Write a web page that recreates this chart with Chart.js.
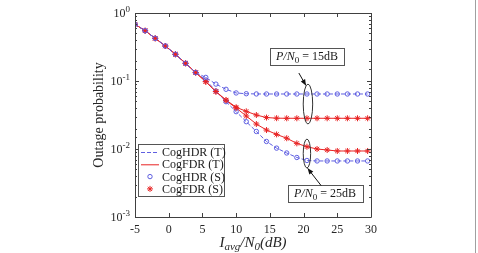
<!DOCTYPE html>
<html>
<head>
<meta charset="utf-8">
<script src="https://cdn.jsdelivr.net/npm/chart.js@4/dist/chart.umd.min.js"></script>
<style>
body{margin:0;background:#fff;}
#wrap{position:relative;width:478px;height:253px;}
#edge{position:absolute;left:475px;top:0;width:1px;height:253px;background:#a0a0a0;}
</style>
</head>
<body>
<div id="wrap"><canvas id="outageChart"></canvas><div id="edge"></div></div>
<script>
// Iavg/N0 (dB) where the curves are sampled
var snr = [-5, -3.5, -2, -0.5, 1, 2.5, 4, 5.5, 7, 8.5, 10, 11.5, 13, 14.5, 16, 17.5, 19, 20.5, 22, 23.5, 25, 26.5, 28, 29.5];

// outage probability, P/N0 = 15dB
var cogHdr15 = [0.682, 0.549, 0.424, 0.327, 0.247, 0.182, 0.133, 0.113, 0.090, 0.0755, 0.0667, 0.065, 0.0645,
  0.0644, 0.0644, 0.0644, 0.0644, 0.0644, 0.0644, 0.0644, 0.0644, 0.0644, 0.0644, 0.0644];
var cogFdr15 = [0.682, 0.549, 0.424, 0.327, 0.247, 0.182, 0.133, 0.0977, 0.0701, 0.0526, 0.0411, 0.0358, 0.0316,
  0.0290, 0.0284, 0.0283, 0.0283, 0.0283, 0.0283, 0.0283, 0.0283, 0.0283, 0.0283, 0.0283];

// outage probability, P/N0 = 25dB
var cogHdr25 = [0.682, 0.549, 0.424, 0.327, 0.247, 0.182, 0.133, 0.1035, 0.0713, 0.0496, 0.0354, 0.0252, 0.0181,
  0.0129, 0.0103, 0.00874, 0.0075, 0.00678, 0.00667, 0.00667, 0.00667, 0.00667, 0.00667, 0.00667];
var cogFdr25 = [0.682, 0.549, 0.424, 0.327, 0.247, 0.182, 0.133, 0.0977, 0.0698, 0.0517, 0.0401, 0.0306, 0.0233,
  0.0190, 0.0164, 0.0144, 0.0121, 0.0108, 0.0100, 0.00967, 0.00935, 0.00935, 0.00935, 0.00935];

var xTicks = [-5, 0, 5, 10, 15, 20, 25, 30];

var SERIF = '"Liberation Serif", "DejaVu Serif", serif';
var BLUE = 'rgb(95,95,225)';
var RED = 'rgb(232,35,35)';

function pts(ys) {
  return snr.map(function (x, i) { return {x: x, y: ys[i]}; });
}

function theory(label, ys, color, dash) {
  return {label: label, data: pts(ys), showLine: true, borderColor: color, borderWidth: 1,
    borderDash: dash, pointRadius: 0, fill: false, order: 2};
}

function sim(label, ys, color, style) {
  return {label: label, data: pts(ys), showLine: false, pointStyle: style,
    pointRadius: style === 'star' ? 3 : 2.2, borderColor: color, pointBorderWidth: 1,
    backgroundColor: 'rgba(0,0,0,0)', order: 1};
}

// put a piece of math-like text together (subscripts / superscripts)
function mathText(ctx, parts, x, y, align) {
  var total = 0;
  parts.forEach(function (p) {
    ctx.font = (p.it ? 'italic ' : '') + p.sz + 'px ' + SERIF;
    p.w = ctx.measureText(p.t).width;
    total += p.w;
  });
  var cx = align === 'center' ? x - total / 2 : (align === 'right' ? x - total : x);
  ctx.textAlign = 'left';
  ctx.textBaseline = 'alphabetic';
  parts.forEach(function (p) {
    ctx.font = (p.it ? 'italic ' : '') + p.sz + 'px ' + SERIF;
    ctx.fillText(p.t, cx, y + (p.dy || 0));
    cx += p.w;
  });
}

// text boxes, ellipses and arrows, in data units
var notes = [
  {db: '15dB', box: [15.0, 26.0, 0.306, 0.172], ring: [20.65, 0.090, 0.0233, 0.7], arrow: [19.3, 0.131, 20.35, 0.086]},
  {db: '25dB', box: [17.65, 28.7, 0.00296, 0.00166], ring: [20.5, 0.0140, 0.00526, 0.55], arrow: [22.6, 0.0029, 20.6, 0.0052]}
];

var legendRows = [
  {text: 'CogHDR (T)', kind: 'dash', color: BLUE},
  {text: 'CogFDR (T)', kind: 'line', color: RED},
  {text: 'CogHDR (S)', kind: 'circle', color: BLUE},
  {text: 'CogFDR (S)', kind: 'star', color: RED}
];

var matlabLook = {
  id: 'matlabLook',
  afterDatasetsDraw: function (chart) {
    var ctx = chart.ctx, a = chart.chartArea;
    var xs = chart.scales.x, ys = chart.scales.y;
    ctx.save();

    // frame and inward ticks
    ctx.strokeStyle = '#404040';
    ctx.lineWidth = 1;
    ctx.beginPath();
    ctx.rect(Math.round(a.left) + 0.5, Math.round(a.top) + 0.5, Math.round(a.right - a.left), Math.round(a.bottom - a.top));
    xs.ticks.forEach(function (t) {
      var px = Math.round(xs.getPixelForValue(t.value)) + 0.5;
      ctx.moveTo(px, a.bottom); ctx.lineTo(px, a.bottom - 4);
      ctx.moveTo(px, a.top); ctx.lineTo(px, a.top + 4);
    });
    ys.ticks.forEach(function (t) {
      var lg = Math.log10(t.value);
      var major = Math.abs(lg - Math.round(lg)) < 1e-6;
      var len = major ? 4 : 2;
      var py = Math.round(ys.getPixelForValue(t.value)) + 0.5;
      ctx.moveTo(a.left, py); ctx.lineTo(a.left + len, py);
      ctx.moveTo(a.right, py); ctx.lineTo(a.right - len, py);
    });
    ctx.stroke();

    // decade labels 10^n
    ctx.fillStyle = '#262626';
    ys.ticks.forEach(function (t) {
      var lg = Math.log10(t.value);
      if (Math.abs(lg - Math.round(lg)) > 1e-6) return;
      var py = ys.getPixelForValue(t.value);
      var e = Math.round(lg);
      mathText(ctx, [{t: '10', sz: 12}, {t: e === 0 ? '0' : '-' + Math.abs(e), sz: 9, dy: -5}], a.left - 5, py + 4, 'right');
    });

    // axis titles
    ctx.fillStyle = '#262626';
    mathText(ctx, [{t: 'I', sz: 15, it: true}, {t: 'avg', sz: 11, it: true, dy: 3}, {t: '/N', sz: 15, it: true},
      {t: '0', sz: 11, it: true, dy: 3}, {t: '(dB)', sz: 15, it: true}], (a.left + a.right) / 2, 247, 'center');
    ctx.save();
    ctx.translate(99, (a.top + a.bottom) / 2);
    ctx.rotate(-Math.PI / 2);
    ctx.font = '14px ' + SERIF;
    ctx.textAlign = 'center';
    ctx.textBaseline = 'middle';
    ctx.fillText('Outage probability', 0, 0);
    ctx.restore();

    // annotations
    notes.forEach(function (n) {
      var b = n.box;
      var bx = xs.getPixelForValue(b[0]), bx2 = xs.getPixelForValue(b[1]);
      var by = ys.getPixelForValue(b[2]), by2 = ys.getPixelForValue(b[3]);
      ctx.fillStyle = '#fff';
      ctx.strokeStyle = '#555';
      ctx.fillRect(bx, by, bx2 - bx, by2 - by);
      ctx.strokeRect(Math.round(bx) + 0.5, Math.round(by) + 0.5, Math.round(bx2 - bx), Math.round(by2 - by));
      ctx.fillStyle = '#1a1a1a';
      mathText(ctx, [{t: 'P/N', sz: 12, it: true}, {t: '0', sz: 9, dy: 3}, {t: ' = ' + n.db, sz: 12}],
        (bx + bx2) / 2, (by + by2) / 2 + 4, 'center');

      var r = n.ring;
      var cx = xs.getPixelForValue(r[0]);
      var ty = ys.getPixelForValue(r[1]), bt = ys.getPixelForValue(r[2]);
      var rx = xs.getPixelForValue(r[0] + r[3]) - cx;
      ctx.strokeStyle = '#333';
      ctx.beginPath();
      ctx.ellipse(cx, (ty + bt) / 2, rx, (bt - ty) / 2, 0, 0, Math.PI * 2);
      ctx.stroke();

      var ar = n.arrow;
      var x1 = xs.getPixelForValue(ar[0]), y1 = ys.getPixelForValue(ar[1]);
      var x2 = xs.getPixelForValue(ar[2]), y2 = ys.getPixelForValue(ar[3]);
      var ang = Math.atan2(y2 - y1, x2 - x1);
      ctx.strokeStyle = '#111';
      ctx.beginPath();
      ctx.moveTo(x1, y1); ctx.lineTo(x2, y2);
      ctx.stroke();
      ctx.fillStyle = '#111';
      ctx.beginPath();
      ctx.moveTo(x2, y2);
      ctx.lineTo(x2 - 6 * Math.cos(ang) + 2.5 * Math.sin(ang), y2 - 6 * Math.sin(ang) - 2.5 * Math.cos(ang));
      ctx.lineTo(x2 - 6 * Math.cos(ang) - 2.5 * Math.sin(ang), y2 - 6 * Math.sin(ang) + 2.5 * Math.cos(ang));
      ctx.closePath();
      ctx.fill();
    });

    // legend box inside the axes, lower left
    var lx = a.left + 3, ly = a.bottom - 73, lw = 86, lh = 52;
    ctx.fillStyle = '#fff';
    ctx.fillRect(lx, ly, lw, lh);
    ctx.strokeStyle = '#555';
    ctx.strokeRect(Math.round(lx) + 0.5, Math.round(ly) + 0.5, lw, lh);
    legendRows.forEach(function (row, i) {
      var ry = ly + 8 + i * 12.3;
      ctx.strokeStyle = row.color;
      ctx.fillStyle = 'rgba(0,0,0,0)';
      ctx.lineWidth = 1;
      if (row.kind === 'dash' || row.kind === 'line') {
        ctx.setLineDash(row.kind === 'dash' ? [4, 2] : []);
        ctx.beginPath();
        ctx.moveTo(lx + 3, ry + 0.5); ctx.lineTo(lx + 21, ry + 0.5);
        ctx.stroke();
        ctx.setLineDash([]);
      } else {
        Chart.helpers.drawPoint(ctx, {pointStyle: row.kind, radius: row.kind === 'star' ? 3 : 2.2, borderWidth: 1},
          lx + 12, ry);
      }
      ctx.fillStyle = '#1a1a1a';
      ctx.font = '12px ' + SERIF;
      ctx.textAlign = 'left';
      ctx.textBaseline = 'middle';
      ctx.fillText(row.text, lx + 24, ry + 1);
    });

    ctx.restore();
  }
};

var ctx1 = document.getElementById('outageChart').getContext('2d');
var outageChart = new Chart(ctx1, {
  type: 'scatter',
  data: {
    datasets: [
      theory('CogHDR (T) 15dB', cogHdr15, BLUE, [4, 2]),
      theory('CogFDR (T) 15dB', cogFdr15, RED, []),
      theory('CogHDR (T) 25dB', cogHdr25, BLUE, [4, 2]),
      theory('CogFDR (T) 25dB', cogFdr25, RED, []),
      sim('CogHDR (S) 15dB', cogHdr15, BLUE, 'circle'),
      sim('CogFDR (S) 15dB', cogFdr15, RED, 'star'),
      sim('CogHDR (S) 25dB', cogHdr25, BLUE, 'circle'),
      sim('CogFDR (S) 25dB', cogFdr25, RED, 'star')
    ]
  },
  options: {
    responsive: true,
    maintainAspectRatio: false,
    animation: false,
    layout: {padding: {top: 13, right: 107, left: 0, bottom: 0}},
    plugins: {legend: {display: false}, tooltip: {enabled: false}},
    scales: {
      x: {
        type: 'linear', min: -5, max: 30,
        afterBuildTicks: function (scale) { scale.ticks = xTicks.map(function (v) { return {value: v}; }); },
        afterFit: function (scale) { scale.height = 36; },
        grid: {display: false, drawTicks: false},
        border: {display: false},
        ticks: {padding: 6, color: '#262626', font: {family: SERIF, size: 12}}
      },
      y: {
        type: 'logarithmic', min: 0.001, max: 1,
        afterFit: function (scale) { scale.width = 135; },
        grid: {display: false, drawTicks: false},
        border: {display: false},
        ticks: {display: false}
      }
    }
  },
  plugins: [matlabLook]
});
</script>
</body>
</html>
